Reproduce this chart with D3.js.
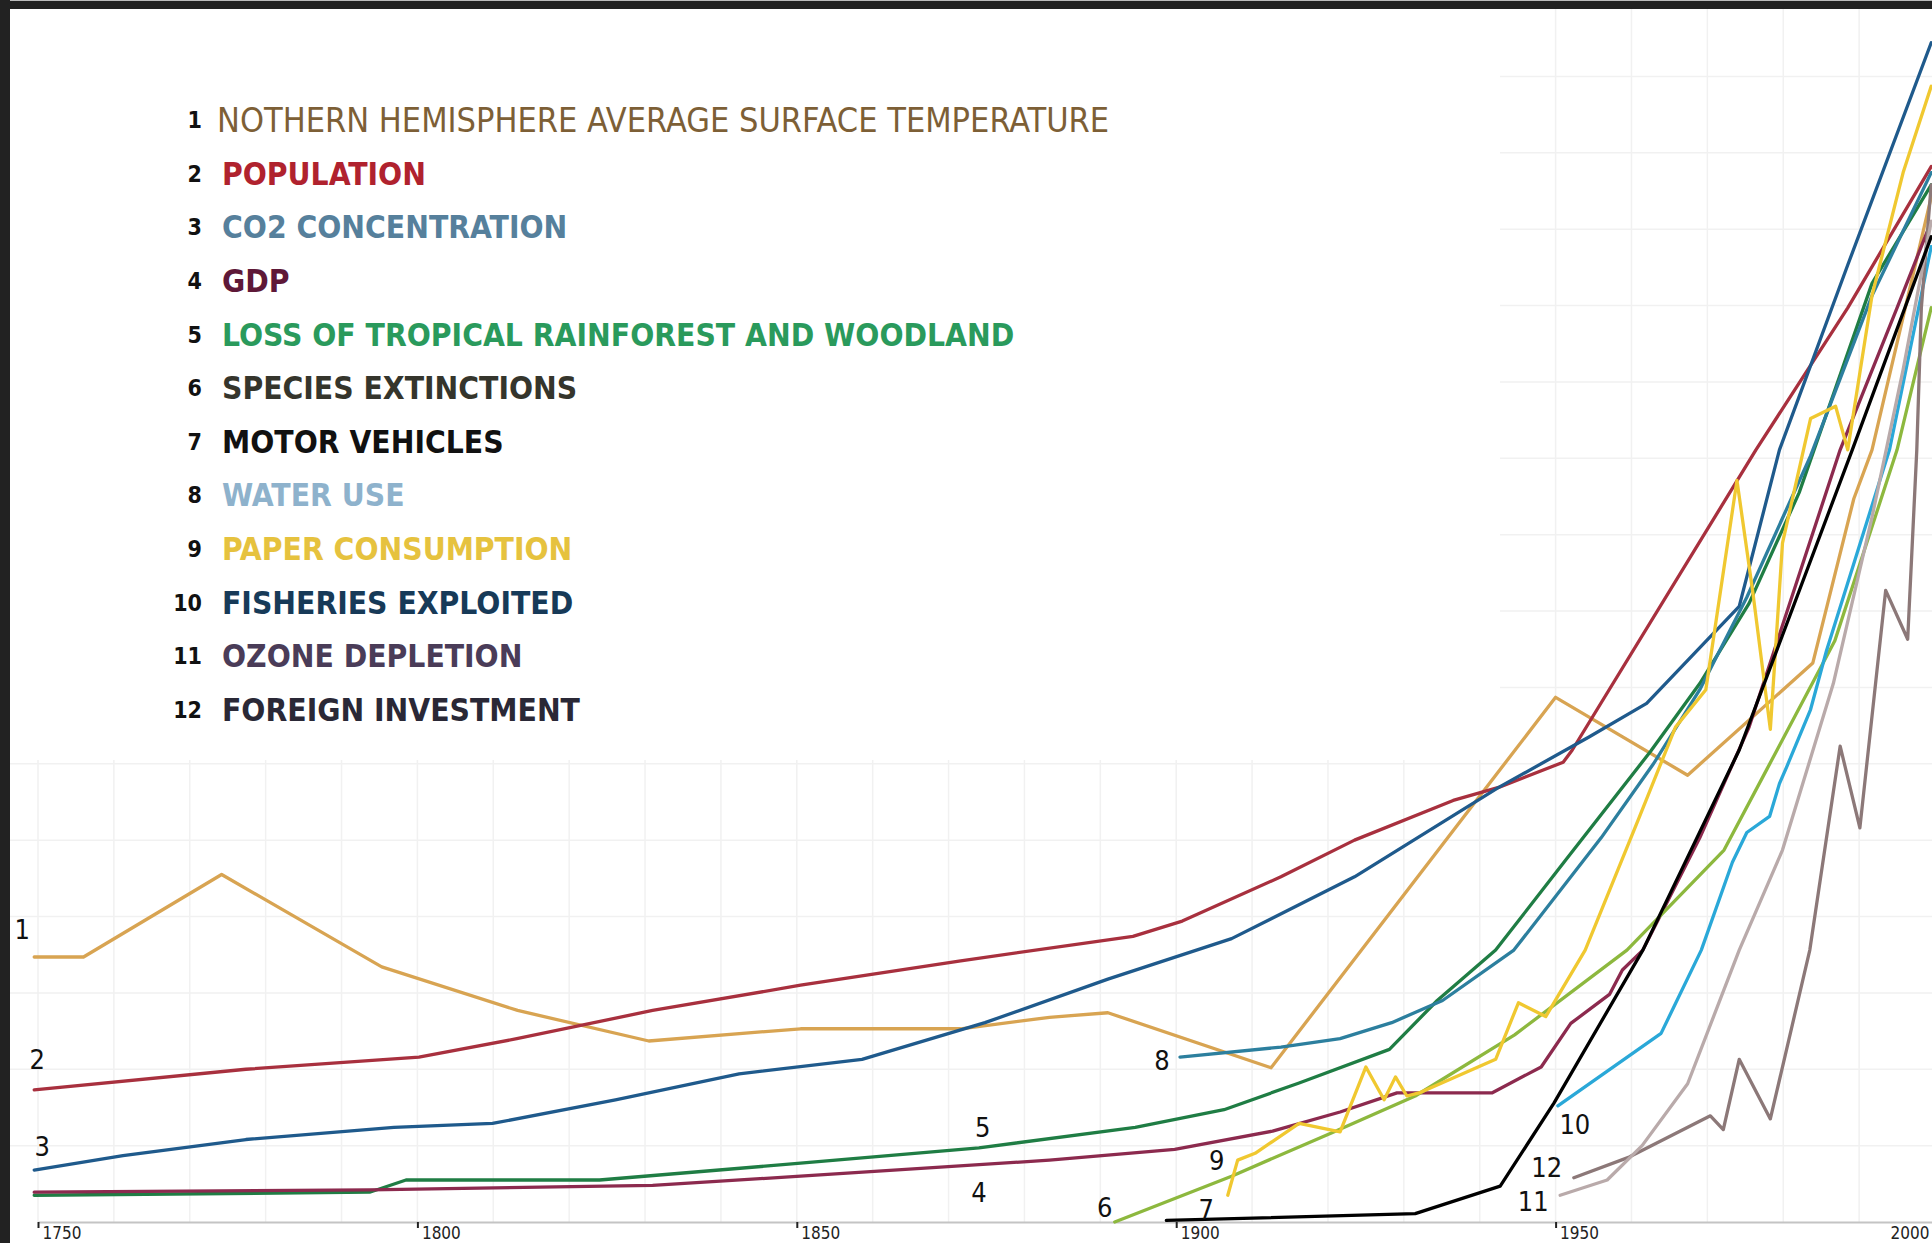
<!DOCTYPE html>
<html><head><meta charset="utf-8">
<script src="https://cdn.jsdelivr.net/npm/d3@7"></script>
<style>
html,body{margin:0;padding:0;background:#222;overflow:hidden;}
svg{display:block;}
</style></head>
<body>
<svg id="chart" width="1932" height="1243"></svg>
<script>
// ---------- DATA (year, relative index) ----------
const seriesNames = [
  "NOTHERN HEMISPHERE AVERAGE SURFACE TEMPERATURE",
  "POPULATION",
  "CO2 CONCENTRATION",
  "GDP",
  "LOSS OF TROPICAL RAINFOREST AND WOODLAND",
  "SPECIES EXTINCTIONS",
  "MOTOR VEHICLES",
  "WATER USE",
  "PAPER CONSUMPTION",
  "FISHERIES EXPLOITED",
  "OZONE DEPLETION",
  "FOREIGN INVESTMENT"
];
const tickYears = [1750, 1800, 1850, 1900, 1950, 2000];

const temperature = [[1749.5,3.47],[1756,3.47],[1774.2,4.55],[1795.3,3.34],[1813.2,2.77],[1830.5,2.37],[1850.5,2.53],[1871.6,2.53],[1883.3,2.68],[1891,2.74],[1912.5,2.02],[1950,6.87],[1967.4,5.85],[1983.9,7.32],[1989.3,9.47],[1991.7,10.11],[1999.5,13.42]];
const population = [[1749.5,1.73],[1777.4,2.0],[1800.2,2.16],[1813.1,2.4],[1831,2.77],[1850.5,3.1],[1871.6,3.42],[1894.3,3.74],[1900.8,3.94],[1913.8,4.52],[1923.5,5.0],[1936.5,5.52],[1942.5,5.69],[1951,6.02],[1952.2,6.18],[1976.4,10.11],[1988.5,11.97],[1999.5,13.82]];
const co2 = [[1749.5,0.68],[1761.2,0.87],[1777.4,1.08],[1796.9,1.24],[1809.9,1.29],[1826.1,1.6],[1842.4,1.94],[1858.6,2.13],[1874.8,2.61],[1891,3.18],[1907.3,3.71],[1923.5,4.52],[1942.5,5.69],[1954.4,6.35],[1962,6.79],[1974.2,8.06],[1979.5,10.11],[1988.5,12.53],[1999.5,15.44]];
const gdp = [[1749.5,0.39],[1793.7,0.42],[1831,0.48],[1850.5,0.6],[1883.3,0.81],[1899.8,0.95],[1912.7,1.19],[1921.6,1.44],[1929.1,1.69],[1941.6,1.69],[1948.1,2.03],[1952,2.6],[1957.1,2.98],[1958.8,3.3],[1961.5,3.56],[1969,5.03],[1975.5,6.48],[1987.5,10.11],[1995,11.97],[1999.5,13.1]];
const rainforest = [[1749.5,0.35],[1793.7,0.39],[1798.5,0.55],[1824,0.55],[1850.5,0.77],[1874,0.97],[1894.6,1.24],[1906.3,1.47],[1916.2,1.82],[1928.1,2.26],[1934.4,2.9],[1942.1,3.56],[1951.1,4.71],[1962.5,6.16],[1969,7.05],[1975.5,8.1],[1982.1,9.55],[1991.7,12.29],[1999.5,13.58]];
const species = [[1891.9,0],[1907.3,0.6],[1920.3,1.16],[1931.5,1.65],[1944.6,2.45],[1959.4,3.56],[1972.2,4.87],[1977.8,5.92],[1986.8,7.61],[1995,10.11],[1999.5,11.97]];
const vehicles = [[1898.7,0.02],[1931.5,0.11],[1942.7,0.47],[1949.8,1.56],[1961.5,3.56],[1974.2,6.18],[1989.1,10.11],[1999.5,12.9]];
const water = [[1900.5,2.16],[1913.8,2.29],[1921.6,2.4],[1928.4,2.61],[1935.1,2.9],[1944.5,3.56],[1956,5.03],[1962.9,6.0],[1969,6.97],[1975.2,8.18],[1983.6,10.03],[1991.7,12.13],[1999.5,13.74]];
const paper = [[1906.8,0.35],[1908.1,0.81],[1910.4,0.9],[1916.2,1.29],[1921.6,1.18],[1925,2.03],[1927.4,1.6],[1928.9,1.9],[1930.4,1.65],[1932,1.69],[1942.1,2.13],[1945.1,2.87],[1948.7,2.69],[1953.9,3.56],[1960.9,5.27],[1965.8,6.48],[1969.8,6.97],[1973.9,9.71],[1976,8.24],[1978.3,6.45],[1979.9,8.89],[1983.6,10.52],[1986.9,10.68],[1988.5,10.11],[1991.7,12.13],[1995.8,13.74],[1999.5,14.87]];
const fisheries = [[1950.3,1.52],[1963.9,2.47],[1969.2,3.56],[1973.3,4.71],[1975.2,5.1],[1978.2,5.31],[1979.5,5.74],[1980.5,5.97],[1983.6,6.71],[1985.7,7.48],[1994,10.11],[1999.5,12.77]];
const ozone = [[1950.6,0.35],[1956.8,0.55],[1961.4,1.0],[1967.4,1.81],[1974.2,3.56],[1979.9,4.87],[1986.6,7.05],[1991.7,9.23],[1995.8,11.16],[1999.5,13.1]];
const investment = [[1952.4,0.58],[1959.7,0.85],[1970.4,1.39],[1972.1,1.21],[1974.2,2.13],[1978.3,1.35],[1983.5,3.56],[1987.5,6.23],[1990.1,5.16],[1993.5,8.27],[1996.4,7.63],[1997.6,10.11],[1998.2,11.97],[1999.5,13.58]];

const seriesData = [temperature, population, co2, gdp, rainforest, species, vehicles, water, paper, fisheries, ozone, investment];
const lineColors = ["#d8a452","#a8303e","#1f5a8c","#8c2a4e","#1f7d44","#8db83e","#000000","#2c7f9e","#f0c830","#2aa8d8","#b9aaaa","#8c7878"];
const legendColors = ["#7d5f36","#b0222e","#56809c","#5e1838","#2a9a5c","#35352c","#111111","#8eb2cc","#e6c23e","#173a58","#4a3c58","#2a2836"];
// annotation anchor: series index, year (null = first point), offsets
const annotations = [
  {s:0, year:null, dx:-12, dy:-27},
  {s:1, year:null, dx:3, dy:-30},
  {s:2, year:null, dx:8, dy:-24},
  {s:3, year:1874, dx:0, dy:28},
  {s:4, year:1874.5, dx:0, dy:-20},
  {s:5, year:null, dx:-10, dy:-15},
  {s:6, year:null, dx:40, dy:-11},
  {s:7, year:null, dx:-18, dy:3},
  {s:8, year:null, dx:-11, dy:-35},
  {s:9, year:null, dx:17, dy:19},
  {s:10, year:null, dx:-27, dy:6},
  {s:11, year:null, dx:-27, dy:-10}
];

// ---------- LAYOUT ----------
const W = 1932, H = 1243;
const svg = d3.select("#chart");
const x = d3.scaleLinear().domain([1750, 2000]).range([38, 1935]);
const y = d3.scaleLinear().domain([0, 16]).range([1222, 0]);
const FONT = "'DejaVu Sans Condensed','Liberation Sans Narrow','DejaVu Sans',sans-serif";

svg.append("rect").attr("width", W).attr("height", H).attr("fill", "#222");
svg.append("rect").attr("x", 10).attr("y", 9).attr("width", W - 10).attr("height", H - 9).attr("fill", "#fff");

// faint grid
const grid = svg.append("g").attr("stroke", "#f1f1f1").attr("stroke-width", 1.5);
grid.selectAll("line.v").data(d3.range(1750, 2001, 10)).join("line").attr("class","v")
  .attr("x1", d => x(d)).attr("x2", d => x(d)).attr("y1", 9).attr("y2", y(0));
grid.selectAll("line.h").data(d3.range(1, 17, 1)).join("line").attr("class","h")
  .attr("x1", 10).attr("x2", W).attr("y1", d => y(d)).attr("y2", d => y(d));

// legend backing
svg.append("rect").attr("x", 10).attr("y", 9).attr("width", 1490).attr("height", 751).attr("fill", "#fff");

// axis
const axis = svg.append("g").attr("transform", `translate(0,${y(0)})`)
  .call(d3.axisBottom(x).tickValues(tickYears).tickFormat(d3.format("d")).tickSize(6).tickSizeOuter(0));
axis.select(".domain").attr("stroke", "#c4c4c4").attr("stroke-width", 2);
axis.selectAll(".tick line").attr("stroke", "#222").attr("stroke-width", 2);
axis.selectAll(".tick text")
  .attr("font-family", FONT).attr("font-size", 17).attr("fill", "#222")
  .attr("text-anchor", (d, i) => i === tickYears.length - 1 ? "end" : "start")
  .attr("x", (d, i) => i === tickYears.length - 1 ? -6 : 4).attr("y", 5).attr("dy", "0.71em");

// lines
const line = d3.line().x(d => x(d[0])).y(d => y(d[1])).curve(d3.curveLinear);
const order = [0,1,2,4,3,7,5,8,9,11,10,6];
svg.append("g").selectAll("path").data(order).join("path")
  .attr("d", i => line(seriesData[i]))
  .attr("fill", "none")
  .attr("stroke", i => lineColors[i])
  .attr("stroke-width", 3.3)
  .attr("stroke-linejoin", "round")
  .attr("stroke-linecap", "round");

// annotations
function valueAt(arr, yr) {
  for (let k = 1; k < arr.length; k++) {
    if (yr <= arr[k][0]) {
      const t = (yr - arr[k-1][0]) / (arr[k][0] - arr[k-1][0]);
      return arr[k-1][1] + t * (arr[k][1] - arr[k-1][1]);
    }
  }
  return arr[arr.length-1][1];
}
svg.append("g").selectAll("text").data(annotations).join("text")
  .attr("x", a => x(a.year === null ? seriesData[a.s][0][0] : a.year) + a.dx)
  .attr("y", a => y(a.year === null ? seriesData[a.s][0][1] : valueAt(seriesData[a.s], a.year)) + a.dy)
  .attr("text-anchor", "middle").attr("dominant-baseline", "central")
  .attr("font-family", FONT).attr("font-size", 27).attr("fill", "#111")
  .text(a => a.s + 1);

// legend
const ly = d3.scaleLinear().domain([0, 11]).range([120, 710]);
const leg = svg.append("g");
leg.selectAll("text.num").data(seriesNames).join("text").attr("class","num")
  .attr("x", 202).attr("y", (d, i) => ly(i))
  .attr("text-anchor", "end").attr("dominant-baseline", "central")
  .attr("font-family", FONT).attr("font-weight", "bold").attr("font-size", 23).attr("fill", "#111")
  .text((d, i) => i + 1);
leg.selectAll("text.name").data(seriesNames).join("text").attr("class","name")
  .attr("x", (d, i) => i === 0 ? 217 : 222).attr("y", (d, i) => ly(i))
  .attr("dominant-baseline", "central")
  .attr("font-family", FONT).attr("font-weight", (d, i) => i === 0 ? "normal" : "bold")
  .attr("font-size", (d, i) => i === 0 ? 34 : 31.5).attr("fill", (d, i) => legendColors[i])
  .text(d => d);
</script>
</body></html>
